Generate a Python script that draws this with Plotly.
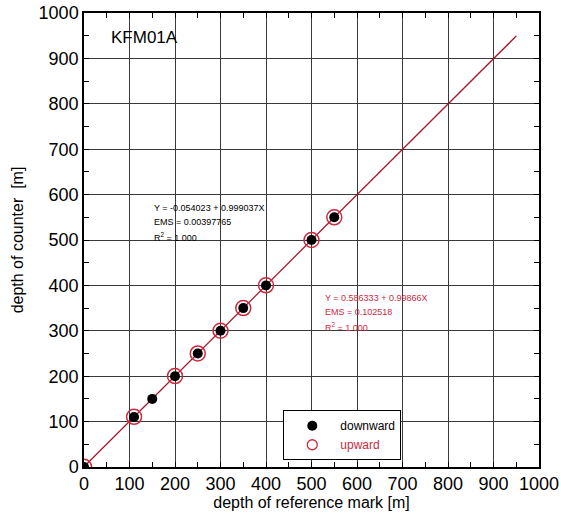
import plotly.graph_objects as go

# Calibration points: depth of reference mark vs depth read by the counter [m]
down_ref = [0, 110, 150, 200, 250, 300, 350, 400, 500, 550]
down_counter = [0, 110, 150, 200, 250, 300, 350, 400, 500, 550]
up_ref = [0, 110, 200, 250, 300, 350, 400, 500, 550]
up_counter = [0.6, 110.5, 200.3, 250.2, 300.2, 350.1, 400.1, 500.0, 549.9]

# Regression line (upward fit) drawn over 0..950 m
fit_x = [0, 950]
fit_intercept = 0.586333
fit_slope = 0.99866
fit_y = [fit_intercept + fit_slope * x for x in fit_x]

# Fit statistics printed on the chart
down_stats = ["Y = -0.054023 + 0.999037X", "EMS = 0.00397765", "R<sup>2</sup> = 1.000"]
up_stats = ["Y = 0.586333 + 0.99866X", "EMS = 0.102518", "R<sup>2</sup> = 1.000"]

FONT = "Liberation Sans, Arial, Helvetica, sans-serif"
RED = "#cc2a3e"
LINE_RED = "#a3182b"

fig = go.Figure()

fig.add_trace(go.Scatter(
    x=fit_x, y=fit_y, mode="lines",
    line=dict(color=LINE_RED, width=1.3),
    showlegend=False, hoverinfo="skip",
))
fig.add_trace(go.Scatter(
    x=down_ref, y=down_counter, mode="markers", name="downward",
    marker=dict(color="black", size=10, line=dict(width=0)),
    showlegend=False,
))
fig.add_trace(go.Scatter(
    x=up_ref, y=up_counter, mode="markers", name="upward",
    marker=dict(symbol="circle-open", color=RED, size=15, line=dict(width=1.5, color=RED)),
    showlegend=False,
))
# Legend entries with compact symbols
fig.add_trace(go.Scatter(
    x=[None], y=[None], mode="markers", name="downward",
    marker=dict(color="black", size=10, line=dict(width=0)),
))
fig.add_trace(go.Scatter(
    x=[None], y=[None], mode="markers",
    name="<span style='color:%s'>upward</span>" % RED,
    marker=dict(symbol="circle-open", color=RED, size=10, line=dict(width=1.3, color=RED)),
))

axis_common = dict(
    range=[0, 1000], dtick=100, tick0=0,
    showgrid=True, gridcolor="#3a3a3a", gridwidth=1,
    showline=True, linecolor="black", linewidth=1.5, mirror="allticks",
    ticks="inside", ticklen=5, tickcolor="black",
    minor=dict(dtick=50, ticks="inside", ticklen=5, tickcolor="black", showgrid=False),
    zeroline=False, automargin=False,
    tickfont=dict(family=FONT, size=18, color="black"),
    fixedrange=True,
)

fig.update_layout(
    width=561, height=518,
    margin=dict(l=84, r=22, t=13, b=51, autoexpand=False),
    paper_bgcolor="white", plot_bgcolor="white",
    font=dict(family=FONT, color="black"),
    xaxis=dict(axis_common, title=dict(text="depth of reference mark [m]",
                                       font=dict(family=FONT, size=16), standoff=3)),
    yaxis=dict(axis_common, title=dict(text="depth of counter  [m]",
                                       font=dict(family=FONT, size=16), standoff=11)),
    legend=dict(
        x=0.438, y=0.125, xanchor="left", yanchor="top",
        bgcolor="white", bordercolor="black", borderwidth=1,
        font=dict(family=FONT, size=12),
        itemwidth=46, tracegroupgap=0,
    ),
)

fig.add_annotation(
    x=0.055, y=0.945, xref="paper", yref="paper", xanchor="left", yanchor="middle",
    text="KFM01A", showarrow=False, font=dict(family=FONT, size=17, color="black"),
)

for text, ypos in zip(down_stats, [570, 539, 506]):
    fig.add_annotation(
        x=149, y=ypos, xref="x", yref="y", xanchor="left", yanchor="middle",
        text=text, showarrow=False, align="left",
        font=dict(family=FONT, size=9, color="black"),
    )
for text, ypos in zip(up_stats, [372, 341, 309]):
    fig.add_annotation(
        x=525, y=ypos, xref="x", yref="y", xanchor="left", yanchor="middle",
        text=text, showarrow=False, align="left",
        font=dict(family=FONT, size=9, color=RED),
    )

fig.write_html("out.html")
